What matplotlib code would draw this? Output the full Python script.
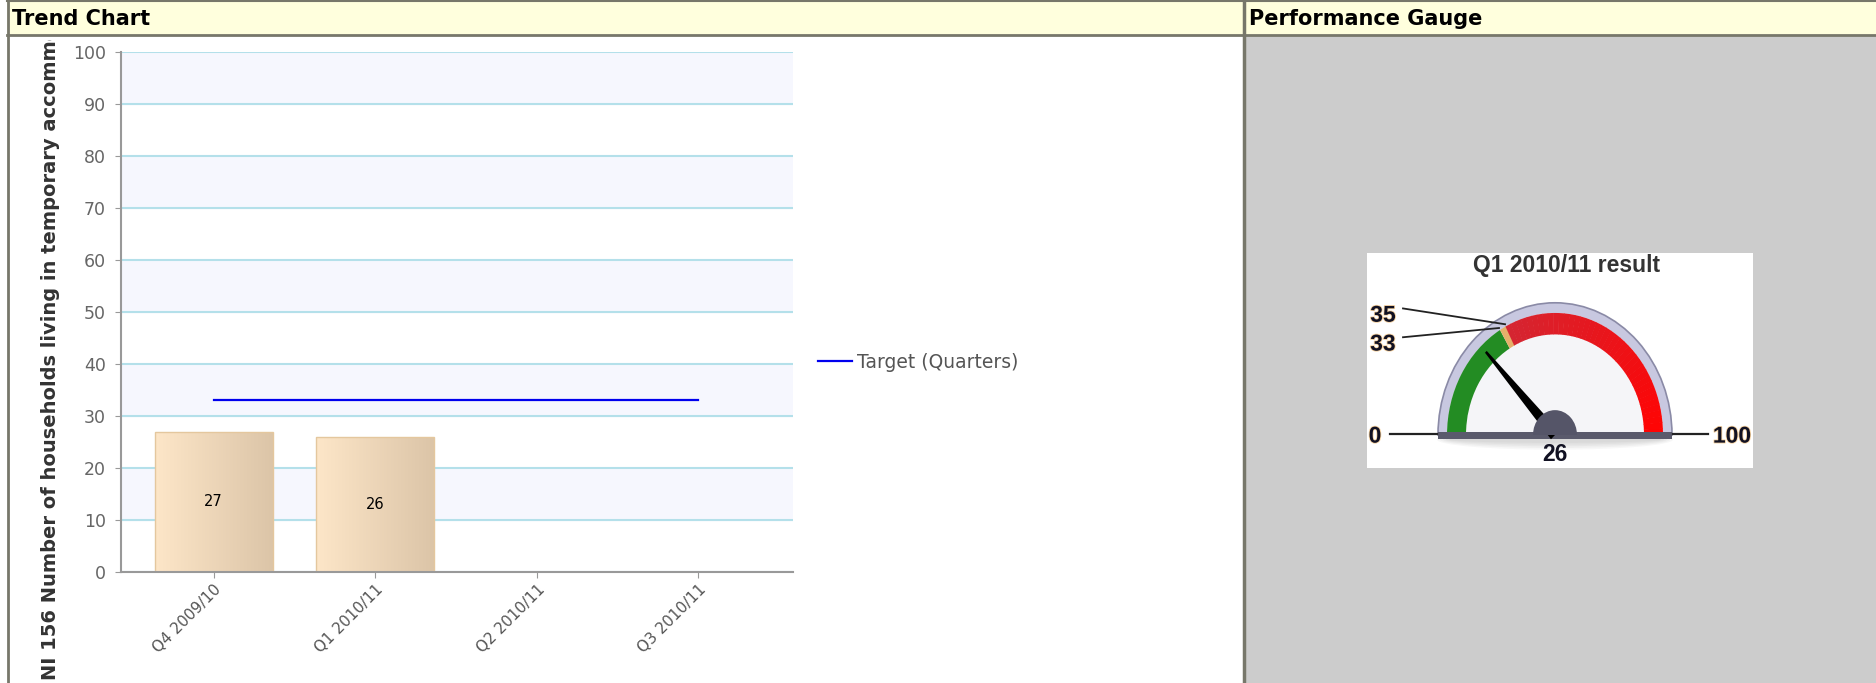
import numpy as np
import matplotlib.pyplot as plt
from matplotlib.patches import Rectangle, Wedge, Polygon, Ellipse
from matplotlib.colors import LinearSegmentedColormap, to_rgb
import matplotlib.patheffects as pe

# data
quarters = ['Q4 2009/10', 'Q1 2010/11', 'Q2 2010/11', 'Q3 2010/11']
results = [27, 26]
target = [33, 33, 33, 33]
y_label = 'NI 156 Number of households living in temporary accommodation'

gauge_title = 'Q1 2010/11 result'
gauge_value = 26
gauge_min, gauge_max = 0, 100
gauge_green_to = 33
gauge_amber_to = 35

W, H = 1876, 683
fig = plt.figure(figsize=(W / 100, H / 100), dpi=100)
fig.patch.set_facecolor('white')


def px_axes(x0, y0, x1, y1):
    return fig.add_axes([x0 / W, 1 - y1 / H, (x1 - x0) / W, (y1 - y0) / H])


# page frame: headers, grey gauge cell, borders
bg = px_axes(0, 0, W, H)
bg.set_xlim(0, W)
bg.set_ylim(H, 0)
bg.axis('off')
bg.add_patch(Rectangle((1244, 35), W - 1244, H - 35, fc='#cccccc', ec='none'))
bg.add_patch(Rectangle((7, 0), W - 7, 35, fc='#ffffdd', ec='none'))
bg.add_patch(Rectangle((1367, 253), 386, 215, fc='white', ec='none'))
border = '#77776a'
bg.plot([7, W], [0.8, 0.8], color=border, lw=1.5)
bg.plot([7, W], [35, 35], color=border, lw=2)
bg.plot([7.5, 7.5], [0, H], color=border, lw=2)
bg.plot([1244, 1244], [0, H], color=border, lw=2.5)
bg.text(12, 19, 'Trend Chart', fontsize=15, fontweight='bold', va='center',
        family='DejaVu Sans', color='black')
bg.text(1249, 19, 'Performance Gauge', fontsize=15, fontweight='bold', va='center',
        family='DejaVu Sans', color='black')

# trend chart
ax = px_axes(121, 52, 793, 572)
x = np.arange(len(quarters))
for lo in range(10, 100, 20):
    ax.axhspan(lo, lo + 10, color='#f6f7fe', zorder=0)
ax.set_yticks(range(0, 101, 10))
ax.yaxis.grid(True, color='#b4e0ea', lw=1.5)
ax.set_axisbelow(True)

bars = ax.bar(x[:len(results)], results, width=0.73, color='none',
              edgecolor='#e4c79e', lw=1, zorder=2)
grad = LinearSegmentedColormap.from_list('tan', ['#fde6c8', '#dcc5a8'])
for b in bars:
    im = ax.imshow(np.linspace(0, 1, 64).reshape(1, -1), cmap=grad, aspect='auto',
                   extent=[b.get_x(), b.get_x() + b.get_width(), 0, b.get_height()],
                   zorder=1.9)
    im.set_clip_path(b)
ax.bar_label(bars, label_type='center', fontsize=10.5, color='black')

ax.plot(x, target, color='#0000ee', lw=1.6, zorder=3, label='Target (Quarters)')

ax.set_xlim(-0.574, 3.586)
ax.set_ylim(0, 100)
ax.set_xticks(x)
ax.set_xticklabels(quarters, rotation=45, ha='right', rotation_mode='anchor',
                   fontsize=11)
for s in ['top', 'right']:
    ax.spines[s].set_visible(False)
for s in ['left', 'bottom']:
    ax.spines[s].set_color('#999999')
    ax.spines[s].set_linewidth(1.5)
ax.tick_params(axis='y', colors='#999999', labelcolor='#666666', labelsize=12.5,
               length=4, pad=7)
ax.tick_params(axis='x', colors='#999999', labelcolor='#555555', length=4, pad=3)

fig.legend(loc='center left', bbox_to_anchor=(818 / W, 1 - 362 / H), frameon=False,
           fontsize=13.5, labelcolor='#555555', handlelength=1.8, handletextpad=0.3,
           borderpad=0, borderaxespad=0)

lab = px_axes(8, 40, 118, H)
lab.set_xlim(8, 118)
lab.set_ylim(H, 40)
lab.axis('off')
t = lab.text(51, 680, y_label, rotation=90, ha='center', va='bottom', fontsize=14,
             fontweight='bold', color='#333333', family='DejaVu Sans', clip_on=True)
t.set_clip_box(lab.bbox)

# gauge
cx, cy, sy = 1555, 435, 1.13
g = px_axes(1367, 253, 1753, 468)
g.set_xlim(1367 - cx, 1753 - cx)
g.set_ylim((cy - 468) / sy, (cy - 253) / sy)
g.axis('off')


def ang(v):
    return 180 - 180 * (v - gauge_min) / (gauge_max - gauge_min)


def pt(v, r):
    a = np.radians(ang(v))
    return r * np.cos(a), r * np.sin(a)


r_rim, r_out, r_in = 117, 108, 89
for k in range(5):
    g.add_patch(Ellipse((0, -4), 236 - 6 * k, 18 - 3 * k, fc='#777777', ec='none',
                        alpha=0.06))
g.add_patch(Wedge((0, 0), r_rim, 0, 180, width=r_rim - r_out + 1, fc='#c8c8e0',
                  ec='#8a8aa6', lw=1.2))
g.add_patch(Wedge((0, 0), r_out, 0, 180, fc='#f5f5f8', ec='none'))

g.add_patch(Wedge((0, 0), r_out, ang(gauge_green_to), ang(gauge_min),
                  width=r_out - r_in, fc='#238c23', ec='none'))
g.add_patch(Wedge((0, 0), r_out, ang(gauge_amber_to), ang(gauge_green_to),
                  width=r_out - r_in, fc='#e6b06a', ec='none'))
c0, c1 = np.array(to_rgb('#d52531')), np.array(to_rgb('#ff0404'))
steps = np.linspace(ang(gauge_max), ang(gauge_amber_to), 41)
for i in range(40):
    f = 1 - i / 39
    g.add_patch(Wedge((0, 0), r_out, steps[i], steps[i + 1] + 0.3, width=r_out - r_in,
                      fc=c0 + (c1 - c0) * f, ec='none'))

g.add_patch(Rectangle((-117, -3.8), 234, 6.7, fc='#5a5a6c', ec='none'))

a = np.radians(ang(gauge_value))
d = np.array([np.cos(a), np.sin(a)])
n = np.array([-d[1], d[0]])
tip = d * 101
g.add_patch(Polygon([n * 5.5, tip + n * 1.2, tip - n * 1.2, -n * 5.5], closed=True,
                    fc='black', ec='none'))
g.add_patch(Wedge((0, 0), 22, 0, 180, fc='#555568', ec='none'))

gf = dict(family='Liberation Sans', fontweight='bold', fontsize=16.5, color='#111122',
          path_effects=[pe.withStroke(linewidth=1.2, foreground='#f6d2a0')])
for v, lx, ly in [(gauge_amber_to, -172, 106), (gauge_green_to, -172, 80.5)]:
    ex, ey = pt(v, 110)
    g.plot([lx + 20, ex], [ly + 6, ey], color='#222222', lw=1.3)
    g.text(lx, ly, f'{v}', ha='center', va='center', **gf)
g.plot([-165, -118], [1, 1], color='#222222', lw=1.6)
g.plot([118, 153], [1, 1], color='#222222', lw=1.6)
g.text(-180, -1, f'{gauge_min}', ha='center', va='center', **gf)
g.text(177, -1, f'{gauge_max}', ha='center', va='center', **gf)
g.text(0, -17, f'{gauge_value}', ha='center', va='center', family='Liberation Sans',
       fontweight='bold', fontsize=16.5, color='#111122')
g.text(12, 150, gauge_title, ha='center', va='center', family='Liberation Sans',
       fontweight='bold', fontsize=16.5, color='#333333')

fig.savefig('out.png', dpi=100)
